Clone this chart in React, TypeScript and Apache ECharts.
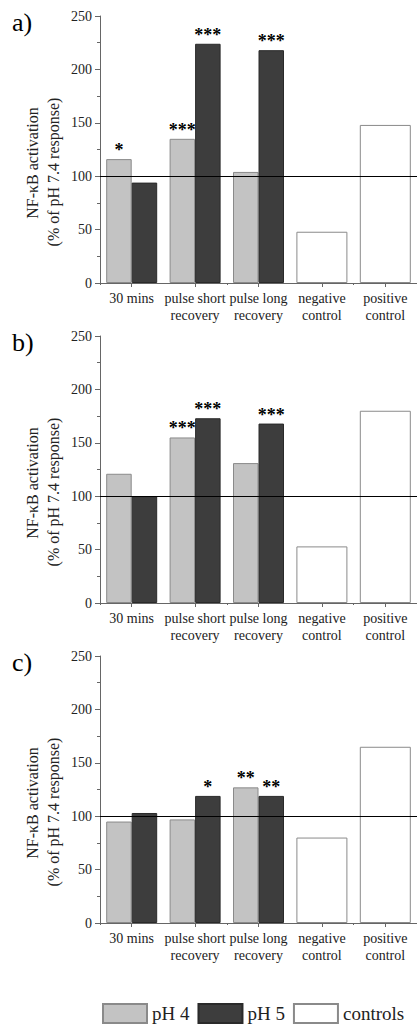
import React, { useEffect, useRef } from "react";
import * as echarts from "echarts";

const categories = ["30 mins", "pulse short\nrecovery", "pulse long\nrecovery", "negative\ncontrol", "positive\ncontrol"];
const yTicks = [0, 50, 100, 150, 200, 250];
const panelLabels = ["a)", "b)", "c)"];
const seriesNames = ["pH 4", "pH 5", "controls"];

// panel a
const pH4A = [116, 135, 104, null, null];
const pH5A = [94, 224, 218, null, null];
const ctrlA = [null, null, null, 48, 148];
const starsA4 = ["*", "***", "", "", ""];
const starsA5 = ["", "***", "***", "", ""];
// panel b
const pH4B = [121, 155, 131, null, null];
const pH5B = [100, 173, 168, null, null];
const ctrlB = [null, null, null, 53, 180];
const starsB4 = ["", "***", "", "", ""];
const starsB5 = ["", "***", "***", "", ""];
// panel c
const pH4C = [95, 97, 127, null, null];
const pH5C = [103, 119, 119, null, null];
const ctrlC = [null, null, null, 80, 165];
const starsC4 = ["", "", "**", "", ""];
const starsC5 = ["", "*", "**", "", ""];

const reference = 100;

const panels = [
  { pH4: pH4A, pH5: pH5A, ctrl: ctrlA, s4: starsA4, s5: starsA5 },
  { pH4: pH4B, pH5: pH5B, ctrl: ctrlB, s4: starsB4, s5: starsB5 },
  { pH4: pH4C, pH5: pH5C, ctrl: ctrlC, s4: starsC4, s5: starsC5 },
];

const FONT = "Liberation Serif";
const AXIS_COLOR = "#666";
const TEXT_COLOR = "#222";

export default function App() {
  const ref = useRef<HTMLDivElement>(null);
  useEffect(() => {
    document.body.style.margin = "0";
    const chart = echarts.init(ref.current!, null, { renderer: "svg" });
    const offsets = [0, 320, 640];
    const grids: any[] = [];
    const xAxes: any[] = [];
    const yAxes: any[] = [];
    const series: any[] = [];
    const graphics: any[] = [];

    panels.forEach((p, i) => {
      const off = offsets[i];
      grids.push({ left: 100, top: off + 16, width: 320, height: 267, containLabel: false });
      xAxes.push({
        type: "category",
        gridIndex: i,
        position: "bottom",
        data: categories,
        axisLine: { show: true, lineStyle: { color: AXIS_COLOR, width: 1 } },
        axisTick: { show: true, alignWithLabel: true, length: 4, lineStyle: { color: AXIS_COLOR } },
        axisLabel: { color: TEXT_COLOR, fontFamily: FONT, fontSize: 14, lineHeight: 17, margin: 7, interval: 0 },
      });
      xAxes.push({
        type: "category",
        gridIndex: i,
        position: "bottom",
        data: categories,
        axisLine: { show: false },
        axisTick: { show: true, length: 2, lineStyle: { color: AXIS_COLOR } },
        axisLabel: { show: false },
      });
      yAxes.push({
        type: "value",
        gridIndex: i,
        min: yTicks[0],
        max: yTicks[yTicks.length - 1],
        interval: 50,
        splitLine: { show: false },
        axisLine: { show: true, lineStyle: { color: AXIS_COLOR, width: 1 } },
        axisTick: { show: true, length: 5, lineStyle: { color: AXIS_COLOR } },
        minorTick: { show: true, splitNumber: 2, length: 3, lineStyle: { color: AXIS_COLOR } },
        axisLabel: { color: TEXT_COLOR, fontFamily: FONT, fontSize: 14, margin: 8 },
      });
      const starLabel = (stars: string[]) => ({
        show: true,
        position: "top",
        distance: 0,
        color: "#000",
        fontFamily: FONT,
        fontWeight: "bold",
        fontSize: 18,
        formatter: (q: any) => stars[q.dataIndex] || "",
      });
      series.push({
        name: seriesNames[0],
        type: "bar",
        xAxisIndex: i * 2,
        yAxisIndex: i,
        barWidth: 25.5,
        barGap: "0%",
        data: p.pH4,
        itemStyle: { color: "#c3c3c3", borderColor: "#8a8a8a", borderWidth: 1 },
        label: starLabel(p.s4),
      });
      series.push({
        name: seriesNames[1],
        type: "bar",
        xAxisIndex: i * 2,
        yAxisIndex: i,
        barWidth: 25.5,
        barGap: "0%",
        data: p.pH5,
        itemStyle: { color: "#3d3d3d", borderColor: "#2a2a2a", borderWidth: 1 },
        label: starLabel(p.s5),
      });
      series.push({
        name: seriesNames[2],
        type: "bar",
        xAxisIndex: i * 2 + 1,
        yAxisIndex: i,
        barWidth: 51,
        data: p.ctrl,
        itemStyle: { color: "#ffffff", borderColor: "#8a8a8a", borderWidth: 1 },
        markLine: {
          silent: true,
          symbol: "none",
          label: { show: false },
          lineStyle: { color: "#000", width: 1, type: "solid" },
          data: [{ yAxis: reference }],
        },
      });
      graphics.push({
        type: "text",
        left: 12,
        top: off + 9,
        style: { text: panelLabels[i], fontFamily: FONT, fontSize: 26, fill: "#000" },
      });
      graphics.push({
        type: "text",
        x: 32,
        y: off + 163,
        rotation: Math.PI / 2,
        style: { text: "NF-κB activation", fontFamily: FONT, fontSize: 16, fill: TEXT_COLOR, align: "center", verticalAlign: "middle" },
      });
      graphics.push({
        type: "text",
        x: 53,
        y: off + 172,
        rotation: Math.PI / 2,
        style: { text: "(% of pH 7.4 response)", fontFamily: FONT, fontSize: 16, fill: TEXT_COLOR, align: "center", verticalAlign: "middle" },
      });
    });

    chart.setOption({
      animation: false,
      backgroundColor: "#fff",
      grid: grids,
      xAxis: xAxes,
      yAxis: yAxes,
      series,
      graphic: graphics,
      legend: {
        data: seriesNames,
        left: 102,
        top: 1003,
        padding: 0,
        itemWidth: 44,
        itemHeight: 19,
        itemGap: 8,
        icon: "rect",
        selectedMode: false,
        textStyle: { fontFamily: FONT, fontSize: 19, color: TEXT_COLOR },
      },
    });
    return () => chart.dispose();
  }, []);
  return <div ref={ref} style={{ width: 417, height: 1025 }} />;
}
